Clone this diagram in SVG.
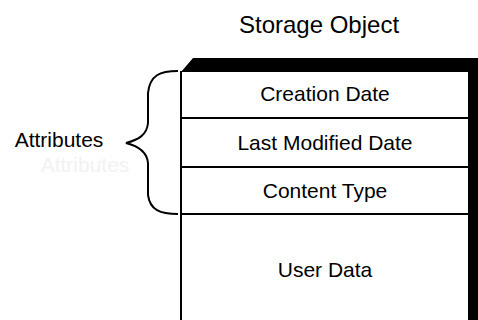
<svg xmlns="http://www.w3.org/2000/svg" width="478" height="320" viewBox="0 0 478 320">
<style>
text{font-family:"Liberation Sans",Arial,sans-serif;fill:#000;text-anchor:middle}
.lbl{font-size:21px}
.ttl{font-size:24px}
.line{stroke:#000;stroke-width:2;fill:none}
</style>
<rect width="478" height="320" fill="#fff"/>
<text class="ttl" x="319" y="33">Storage Object</text>
<g id="storage-object">
<polygon points="181,72 193,58 478,58 478,320 468,320 468,72" fill="#000"/>
<line class="line" x1="181" y1="71" x2="181" y2="320"/>
</g>
<g id="creation-date">
<text class="lbl" x="325" y="101">Creation Date</text>
</g>
<line class="line" x1="181" y1="118" x2="468" y2="118"/>
<g id="last-modified-date">
<text class="lbl" x="325" y="150">Last Modified Date</text>
</g>
<line class="line" x1="181" y1="167" x2="468" y2="167"/>
<g id="content-type">
<text class="lbl" x="325" y="198">Content Type</text>
</g>
<line class="line" x1="181" y1="214" x2="468" y2="214"/>
<g id="user-data">
<text class="lbl" x="325" y="277">User Data</text>
</g>
<g id="attributes">
<path class="line" d="M178,71 C160,71 150,75 148,93 L148,123 C147,135 138,140 126,143 C138,146 147,152 148,163 L148,195 C150,210 160,214 178,214"/>
<text class="lbl" x="59" y="147">Attributes</text>
<text class="lbl" x="85" y="172" style="fill:#f2f2f2">Attributes</text>
</g>
</svg>
